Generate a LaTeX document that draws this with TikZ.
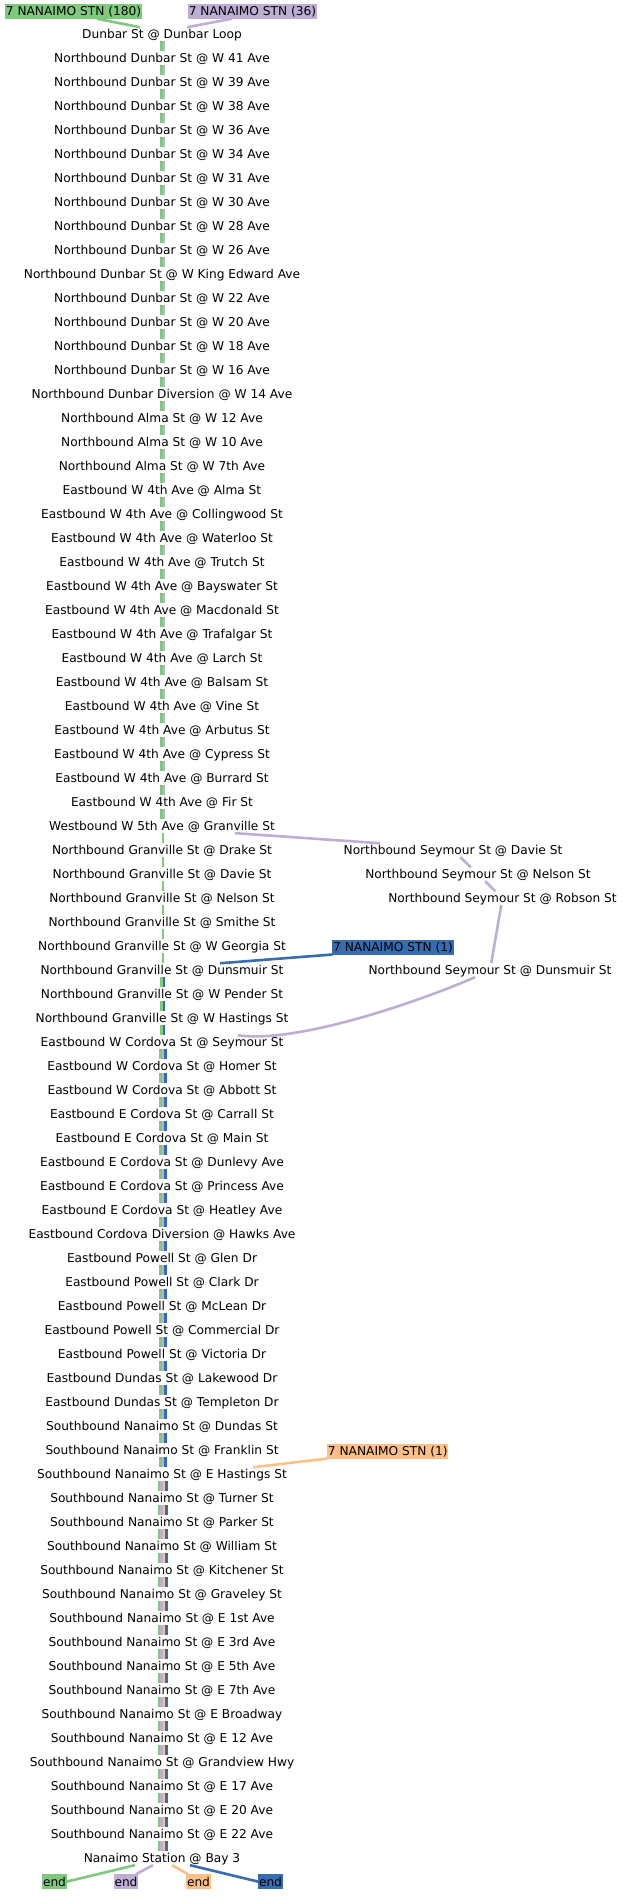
\documentclass[tikz,border=0pt]{standalone}
\usepackage{fontspec}
\setmainfont{DejaVu Sans}
\usepackage{tikz}
\usetikzlibrary{positioning}

\definecolor{accgreen}{HTML}{7FC97F}
\definecolor{accpurple}{HTML}{BEAED4}
\definecolor{accorange}{HTML}{FDC086}
\definecolor{accblue}{HTML}{386CB0}
\newcommand{\stopfont}{\fontsize{12.2pt}{14pt}\selectfont}

\begin{document}
\begin{tikzpicture}[
    x=1pt, y=1pt,
    node distance=10.1pt,
    % === STYLES ===
    stop/.style={
        font=\stopfont,
        inner sep=0pt,
        outer sep=0pt,
        text height=11.4pt,
        text depth=2.5pt,
        align=center
    },
    tag/.style={
        font=\stopfont,
        fill=#1,
        inner xsep=0.7pt,
        inner ysep=0.55pt,
        outer sep=0pt,
        text height=11.4pt,
        text depth=2.5pt
    },
    tag/.default=accgreen,
    route/.style={
        draw=#1,
        line width=2.6pt
    },
    route/.default=accgreen
]
\useasboundingbox (0,0) rectangle (623,-1896);

% === MAIN COLUMN: STOPS ===
\node[stop] (s1) at (162,-34.2) {Dunbar St @ Dunbar Loop};
\node[stop, below=of s1] (s2) {Northbound Dunbar St @ W 41 Ave};
\node[stop, below=of s2] (s3) {Northbound Dunbar St @ W 39 Ave};
\node[stop, below=of s3] (s4) {Northbound Dunbar St @ W 38 Ave};
\node[stop, below=of s4] (s5) {Northbound Dunbar St @ W 36 Ave};
\node[stop, below=of s5] (s6) {Northbound Dunbar St @ W 34 Ave};
\node[stop, below=of s6] (s7) {Northbound Dunbar St @ W 31 Ave};
\node[stop, below=of s7] (s8) {Northbound Dunbar St @ W 30 Ave};
\node[stop, below=of s8] (s9) {Northbound Dunbar St @ W 28 Ave};
\node[stop, below=of s9] (s10) {Northbound Dunbar St @ W 26 Ave};
\node[stop, below=of s10] (s11) {Northbound Dunbar St @ W King Edward Ave};
\node[stop, below=of s11] (s12) {Northbound Dunbar St @ W 22 Ave};
\node[stop, below=of s12] (s13) {Northbound Dunbar St @ W 20 Ave};
\node[stop, below=of s13] (s14) {Northbound Dunbar St @ W 18 Ave};
\node[stop, below=of s14] (s15) {Northbound Dunbar St @ W 16 Ave};
\node[stop, below=of s15] (s16) {Northbound Dunbar Diversion @ W 14 Ave};
\node[stop, below=of s16] (s17) {Northbound Alma St @ W 12 Ave};
\node[stop, below=of s17] (s18) {Northbound Alma St @ W 10 Ave};
\node[stop, below=of s18] (s19) {Northbound Alma St @ W 7th Ave};
\node[stop, below=of s19] (s20) {Eastbound W 4th Ave @ Alma St};
\node[stop, below=of s20] (s21) {Eastbound W 4th Ave @ Collingwood St};
\node[stop, below=of s21] (s22) {Eastbound W 4th Ave @ Waterloo St};
\node[stop, below=of s22] (s23) {Eastbound W 4th Ave @ Trutch St};
\node[stop, below=of s23] (s24) {Eastbound W 4th Ave @ Bayswater St};
\node[stop, below=of s24] (s25) {Eastbound W 4th Ave @ Macdonald St};
\node[stop, below=of s25] (s26) {Eastbound W 4th Ave @ Trafalgar St};
\node[stop, below=of s26] (s27) {Eastbound W 4th Ave @ Larch St};
\node[stop, below=of s27] (s28) {Eastbound W 4th Ave @ Balsam St};
\node[stop, below=of s28] (s29) {Eastbound W 4th Ave @ Vine St};
\node[stop, below=of s29] (s30) {Eastbound W 4th Ave @ Arbutus St};
\node[stop, below=of s30] (s31) {Eastbound W 4th Ave @ Cypress St};
\node[stop, below=of s31] (s32) {Eastbound W 4th Ave @ Burrard St};
\node[stop, below=of s32] (s33) {Eastbound W 4th Ave @ Fir St};
\node[stop, below=of s33] (s34) {Westbound W 5th Ave @ Granville St};
\node[stop, below=of s34] (s35) {Northbound Granville St @ Drake St};
\node[stop, below=of s35] (s36) {Northbound Granville St @ Davie St};
\node[stop, below=of s36] (s37) {Northbound Granville St @ Nelson St};
\node[stop, below=of s37] (s38) {Northbound Granville St @ Smithe St};
\node[stop, below=of s38] (s39) {Northbound Granville St @ W Georgia St};
\node[stop, below=of s39] (s40) {Northbound Granville St @ Dunsmuir St};
\node[stop, below=of s40] (s41) {Northbound Granville St @ W Pender St};
\node[stop, below=of s41] (s42) {Northbound Granville St @ W Hastings St};
\node[stop, below=of s42] (s43) {Eastbound W Cordova St @ Seymour St};
\node[stop, below=of s43] (s44) {Eastbound W Cordova St @ Homer St};
\node[stop, below=of s44] (s45) {Eastbound W Cordova St @ Abbott St};
\node[stop, below=of s45] (s46) {Eastbound E Cordova St @ Carrall St};
\node[stop, below=of s46] (s47) {Eastbound E Cordova St @ Main St};
\node[stop, below=of s47] (s48) {Eastbound E Cordova St @ Dunlevy Ave};
\node[stop, below=of s48] (s49) {Eastbound E Cordova St @ Princess Ave};
\node[stop, below=of s49] (s50) {Eastbound E Cordova St @ Heatley Ave};
\node[stop, below=of s50] (s51) {Eastbound Cordova Diversion @ Hawks Ave};
\node[stop, below=of s51] (s52) {Eastbound Powell St @ Glen Dr};
\node[stop, below=of s52] (s53) {Eastbound Powell St @ Clark Dr};
\node[stop, below=of s53] (s54) {Eastbound Powell St @ McLean Dr};
\node[stop, below=of s54] (s55) {Eastbound Powell St @ Commercial Dr};
\node[stop, below=of s55] (s56) {Eastbound Powell St @ Victoria Dr};
\node[stop, below=of s56] (s57) {Eastbound Dundas St @ Lakewood Dr};
\node[stop, below=of s57] (s58) {Eastbound Dundas St @ Templeton Dr};
\node[stop, below=of s58] (s59) {Southbound Nanaimo St @ Dundas St};
\node[stop, below=of s59] (s60) {Southbound Nanaimo St @ Franklin St};
\node[stop, below=of s60] (s61) {Southbound Nanaimo St @ E Hastings St};
\node[stop, below=of s61] (s62) {Southbound Nanaimo St @ Turner St};
\node[stop, below=of s62] (s63) {Southbound Nanaimo St @ Parker St};
\node[stop, below=of s63] (s64) {Southbound Nanaimo St @ William St};
\node[stop, below=of s64] (s65) {Southbound Nanaimo St @ Kitchener St};
\node[stop, below=of s65] (s66) {Southbound Nanaimo St @ Graveley St};
\node[stop, below=of s66] (s67) {Southbound Nanaimo St @ E 1st Ave};
\node[stop, below=of s67] (s68) {Southbound Nanaimo St @ E 3rd Ave};
\node[stop, below=of s68] (s69) {Southbound Nanaimo St @ E 5th Ave};
\node[stop, below=of s69] (s70) {Southbound Nanaimo St @ E 7th Ave};
\node[stop, below=of s70] (s71) {Southbound Nanaimo St @ E Broadway};
\node[stop, below=of s71] (s72) {Southbound Nanaimo St @ E 12 Ave};
\node[stop, below=of s72] (s73) {Southbound Nanaimo St @ Grandview Hwy};
\node[stop, below=of s73] (s74) {Southbound Nanaimo St @ E 17 Ave};
\node[stop, below=of s74] (s75) {Southbound Nanaimo St @ E 20 Ave};
\node[stop, below=of s75] (s76) {Southbound Nanaimo St @ E 22 Ave};
\node[stop, below=of s76] (s77) {Nanaimo Station @ Bay 3};

% === SEYMOUR DETOUR ===
\node[stop] (seydavie) at ([xshift=291pt]s35) {Northbound Seymour St @ Davie St};
\node[stop] (seynelson) at ([xshift=316pt]s36) {Northbound Seymour St @ Nelson St};
\node[stop] (seyrobson) at ([xshift=340.5pt]s37) {Northbound Seymour St @ Robson St};
\node[stop] (seydunsmuir) at ([xshift=328pt]s40) {Northbound Seymour St @ Dunsmuir St};

% === TRIP LABELS ===
\node[tag=accgreen] (startgreen) at (73.5,-11.2) {7 NANAIMO STN (180)};
\node[tag=accpurple] (startpurple) at (252.5,-11.2) {7 NANAIMO STN (36)};
\node[tag=accblue] (startblue) at ([xshift=231pt, yshift=-0.8pt]s39) {7 NANAIMO STN (1)};
\node[tag=accorange] (startorange) at ([xshift=225.8pt, yshift=-0.8pt]s60) {7 NANAIMO STN (1)};

\node[tag=accgreen, below=9pt of s77, xshift=-107.5pt] (endgreen) {end};
\node[tag=accpurple, below=9pt of s77, xshift=-36pt] (endpurple) {end};
\node[tag=accorange, below=9pt of s77, xshift=36.5pt] (endorange) {end};
\node[tag=accblue, below=9pt of s77, xshift=108.5pt] (endblue) {end};

% === BUNDLES BETWEEN STOPS ===

% Dunbar Loop to W 5th Ave: green, purple
\foreach \i [remember=\i as \j (initially 1)] in {2,...,34} {
    \draw[route=accgreen] ([xshift=-0.5pt]s\j.south) -- ([xshift=-0.5pt]s\i.north);
    \draw[route=accpurple] ([xshift=2.1pt]s\j.south) -- ([xshift=2.1pt]s\i.north);
}

% Granville St: green alone
\foreach \i [remember=\i as \j (initially 34)] in {35,...,40} {
    \draw[route=accgreen] ([xshift=0.8pt]s\j.south) -- ([xshift=0.8pt]s\i.north);
}

% Dunsmuir to W Cordova: green, blue
\foreach \i [remember=\i as \j (initially 40)] in {41,...,43} {
    \draw[route=accgreen] ([xshift=-0.5pt]s\j.south) -- ([xshift=-0.5pt]s\i.north);
    \draw[route=accblue] ([xshift=2.1pt]s\j.south) -- ([xshift=2.1pt]s\i.north);
}

% W Cordova to E Hastings: green, purple, blue
\foreach \i [remember=\i as \j (initially 43)] in {44,...,61} {
    \draw[route=accgreen] ([xshift=-1.8pt]s\j.south) -- ([xshift=-1.8pt]s\i.north);
    \draw[route=accpurple] ([xshift=0.8pt]s\j.south) -- ([xshift=0.8pt]s\i.north);
    \draw[route=accblue] ([xshift=3.4pt]s\j.south) -- ([xshift=3.4pt]s\i.north);
}

% Nanaimo St: all four
\foreach \i [remember=\i as \j (initially 61)] in {62,...,77} {
    \draw[route=accgreen] ([xshift=-3.1pt]s\j.south) -- ([xshift=-3.1pt]s\i.north);
    \draw[route=accpurple] ([xshift=-0.5pt]s\j.south) -- ([xshift=-0.5pt]s\i.north);
    \draw[route=accorange] ([xshift=2.1pt]s\j.south) -- ([xshift=2.1pt]s\i.north);
    \draw[route=accblue] ([xshift=4.7pt]s\j.south) -- ([xshift=4.7pt]s\i.north);
}

% === STARTS ===
\draw[route=accgreen] ([xshift=23.5pt]startgreen.south) -- ([xshift=-22pt]s1.north);
\draw[route=accpurple] ([xshift=-20.5pt]startpurple.south) -- ([xshift=25pt]s1.north);
\draw[route=accblue] (startblue.south west) -- ([xshift=58pt]s40.north);
\draw[route=accorange] (startorange.south west) -- ([xshift=91pt]s61.north);

% === SEYMOUR DETOUR (purple) ===
\draw[route=accpurple] ([xshift=73pt]s34.south) -- ([xshift=-73pt]seydavie.north);
\draw[route=accpurple] (seydavie) -- (seynelson);
\draw[route=accpurple] (seynelson) -- (seyrobson);
\draw[route=accpurple] (seyrobson) -- (seydunsmuir);
\draw[route=accpurple] ([xshift=-15pt]seydunsmuir.south)
    .. controls +(-45,-20) and +(62,-9) .. ([xshift=76pt]s43.north);

% === ENDS ===
\draw[route=accgreen] ([xshift=-27pt]s77.south) -- (endgreen.east);
\draw[route=accpurple] ([xshift=-9pt]s77.south) -- ([xshift=10pt]endpurple.north);
\draw[route=accorange] ([xshift=10pt]s77.south) -- ([xshift=-10.5pt]endorange.north);
\draw[route=accblue] ([xshift=28pt]s77.south) -- (endblue.west);

\end{tikzpicture}
\end{document}
